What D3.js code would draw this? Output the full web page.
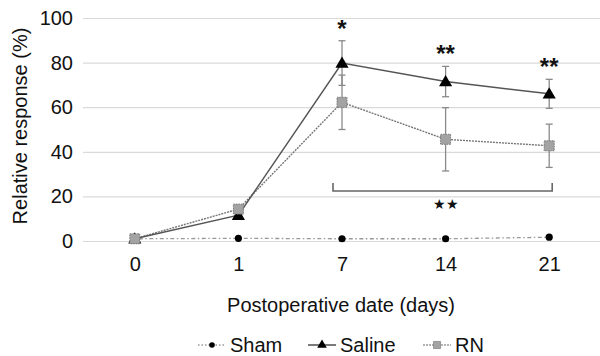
<!DOCTYPE html>
<html>
<head>
<meta charset="utf-8">
<script src="https://cdn.jsdelivr.net/npm/d3@7"></script>
<style>
  body { margin: 0; background: #fff; }
  text { font-family: 'Liberation Sans', Arial, sans-serif; }
</style>
</head>
<body>
<svg id="chart"></svg>
<script>
const days = ['0', '1', '7', '14', '21'];
const yTicks = [0, 20, 40, 60, 80, 100];
const shamValues = [1, 1.2, 1, 1, 1.7];
const salineValues = [1, 11.6, 79.8, 71.5, 66];
const salineErrors = [0, 0, 10, 6.8, 6.5];
const rnValues = [1, 14.3, 62.2, 45.6, 42.7];
const rnErrors = [0, 0, 12.2, 14.2, 9.7];
const salineMarks = ['', '', '*', '**', '**'];

const width = 600;
const height = 356;
const margin = { left: 83 };
const gridColor = '#DADADA';
const font = "'Liberation Sans', Arial, sans-serif";

const svg = d3.select('#chart').attr('width', width).attr('height', height);
svg.selectAll('*').remove();

const x = d3.scalePoint().domain(days).range([margin.left, width + 1]).padding(0.5);
const y = d3.scaleLinear().domain([0, 100]).range([241, 18]);

// Grid + y axis labels
const yAxis = svg.append('g')
  .attr('transform', `translate(${margin.left},0)`)
  .call(d3.axisLeft(y).tickValues(yTicks).tickSize(-(width - margin.left)).tickPadding(10));
yAxis.select('.domain').remove();
yAxis.selectAll('.tick line').attr('stroke', gridColor).attr('stroke-width', 1.2);
yAxis.selectAll('.tick text').attr('font-size', 20).attr('fill', '#111').attr('font-family', font);

// X axis labels
const xAxis = svg.append('g')
  .attr('transform', `translate(0,${y(0)})`)
  .call(d3.axisBottom(x).tickSize(0).tickPadding(16));
xAxis.select('.domain').remove();
xAxis.selectAll('.tick text').attr('font-size', 20).attr('fill', '#111').attr('font-family', font);

// Axis titles
svg.append('text')
  .attr('transform', `translate(27,126) rotate(-90)`)
  .attr('text-anchor', 'middle')
  .attr('font-size', 20).attr('fill', '#111')
  .text('Relative response (%)');
svg.append('text')
  .attr('x', 341).attr('y', 312)
  .attr('text-anchor', 'middle')
  .attr('font-size', 20).attr('fill', '#111')
  .text('Postoperative date (days)');

const line = (vals) => d3.line().x((d, i) => x(days[i])).y((d) => y(d))(vals);

// Error bars
const drawErrors = (vals, errs) => {
  const g = svg.append('g').attr('stroke', '#8a8a8a').attr('stroke-width', 1.3);
  vals.forEach((v, i) => {
    if (!errs[i]) return;
    const cx = x(days[i]);
    g.append('line').attr('x1', cx).attr('x2', cx).attr('y1', y(v + errs[i])).attr('y2', y(v - errs[i]));
    [v + errs[i], v - errs[i]].forEach((e) => {
      g.append('line').attr('x1', cx - 3.5).attr('x2', cx + 3.5).attr('y1', y(e)).attr('y2', y(e));
    });
  });
};
drawErrors(rnValues, rnErrors);
drawErrors(salineValues, salineErrors);

// Lines
svg.append('path').attr('d', line(shamValues)).attr('fill', 'none')
  .attr('stroke', '#999').attr('stroke-width', 1.3).attr('stroke-dasharray', '1.5,2.5,4,2.5');
svg.append('path').attr('d', line(rnValues)).attr('fill', 'none')
  .attr('stroke', '#777').attr('stroke-width', 1.4).attr('stroke-dasharray', '2,1');
svg.append('path').attr('d', line(salineValues)).attr('fill', 'none')
  .attr('stroke', '#555').attr('stroke-width', 1.5);

// Markers
const sym = (type, size) => d3.symbol().type(type).size(size)();
svg.append('g').selectAll('circle').data(shamValues).join('circle')
  .attr('cx', (d, i) => x(days[i])).attr('cy', (d) => y(d)).attr('r', 3.6).attr('fill', '#000');
svg.append('g').selectAll('path').data(salineValues).join('path')
  .attr('transform', (d, i) => `translate(${x(days[i])},${y(d) + 1})`)
  .attr('d', sym(d3.symbolTriangle, 75)).attr('fill', '#000');
svg.append('g').selectAll('path').data(rnValues).join('path')
  .attr('transform', (d, i) => `translate(${x(days[i])},${y(d)})`)
  .attr('d', sym(d3.symbolSquare, 100)).attr('fill', '#a3a3a3')
  .attr('stroke', '#777').attr('stroke-width', 1).attr('stroke-dasharray', '1.5,1');

// Significance marks above saline
svg.append('g').selectAll('text').data(salineValues).join('text')
  .attr('x', (d, i) => x(days[i]))
  .attr('y', (d, i) => y(d + salineErrors[i]) - 4)
  .attr('text-anchor', 'middle').attr('font-size', 24).attr('font-weight', 'bold').attr('fill', '#111')
  .text((d, i) => salineMarks[i]);

// Bracket between groups from day 7 to 21
const bx1 = x('7') - 9;
const bx2 = x('21') + 3;
svg.append('path')
  .attr('d', `M${bx1},183 V191 H${bx2} V183`)
  .attr('fill', 'none').attr('stroke', '#666').attr('stroke-width', 1.6);
svg.append('text')
  .attr('x', x('14')).attr('y', 209)
  .attr('text-anchor', 'middle').attr('font-size', 14).attr('fill', '#111')
  .attr('font-family', "'DejaVu Sans', sans-serif")
  .text('★★');

// Legend
const legend = svg.append('g').attr('transform', 'translate(0,345)');
const items = [
  { name: 'Sham', x0: 198, dash: '1.5,2', stroke: '#999', mark: 'circle' },
  { name: 'Saline', x0: 308, dash: null, stroke: '#333', mark: 'tri' },
  { name: 'RN', x0: 423, dash: '2,1', stroke: '#999', mark: 'sq' },
];
items.forEach((it) => {
  const g = legend.append('g').attr('transform', `translate(${it.x0},0)`);
  g.append('line').attr('x1', 0).attr('x2', 28).attr('y1', 0).attr('y2', 0)
    .attr('stroke', it.stroke).attr('stroke-width', 1.3).attr('stroke-dasharray', it.dash);
  if (it.mark === 'circle') g.append('circle').attr('cx', 14).attr('r', 2.8).attr('fill', '#000');
  if (it.mark === 'tri') g.append('path').attr('transform', 'translate(14,0)').attr('d', sym(d3.symbolTriangle, 40)).attr('fill', '#000');
  if (it.mark === 'sq') g.append('path').attr('transform', 'translate(14,0)').attr('d', sym(d3.symbolSquare, 50))
    .attr('fill', '#a3a3a3').attr('stroke', '#888').attr('stroke-width', 0.8);
  g.append('text').attr('x', 32).attr('y', 7).attr('font-size', 20).attr('fill', '#111').text(it.name);
});
</script>
</body>
</html>
